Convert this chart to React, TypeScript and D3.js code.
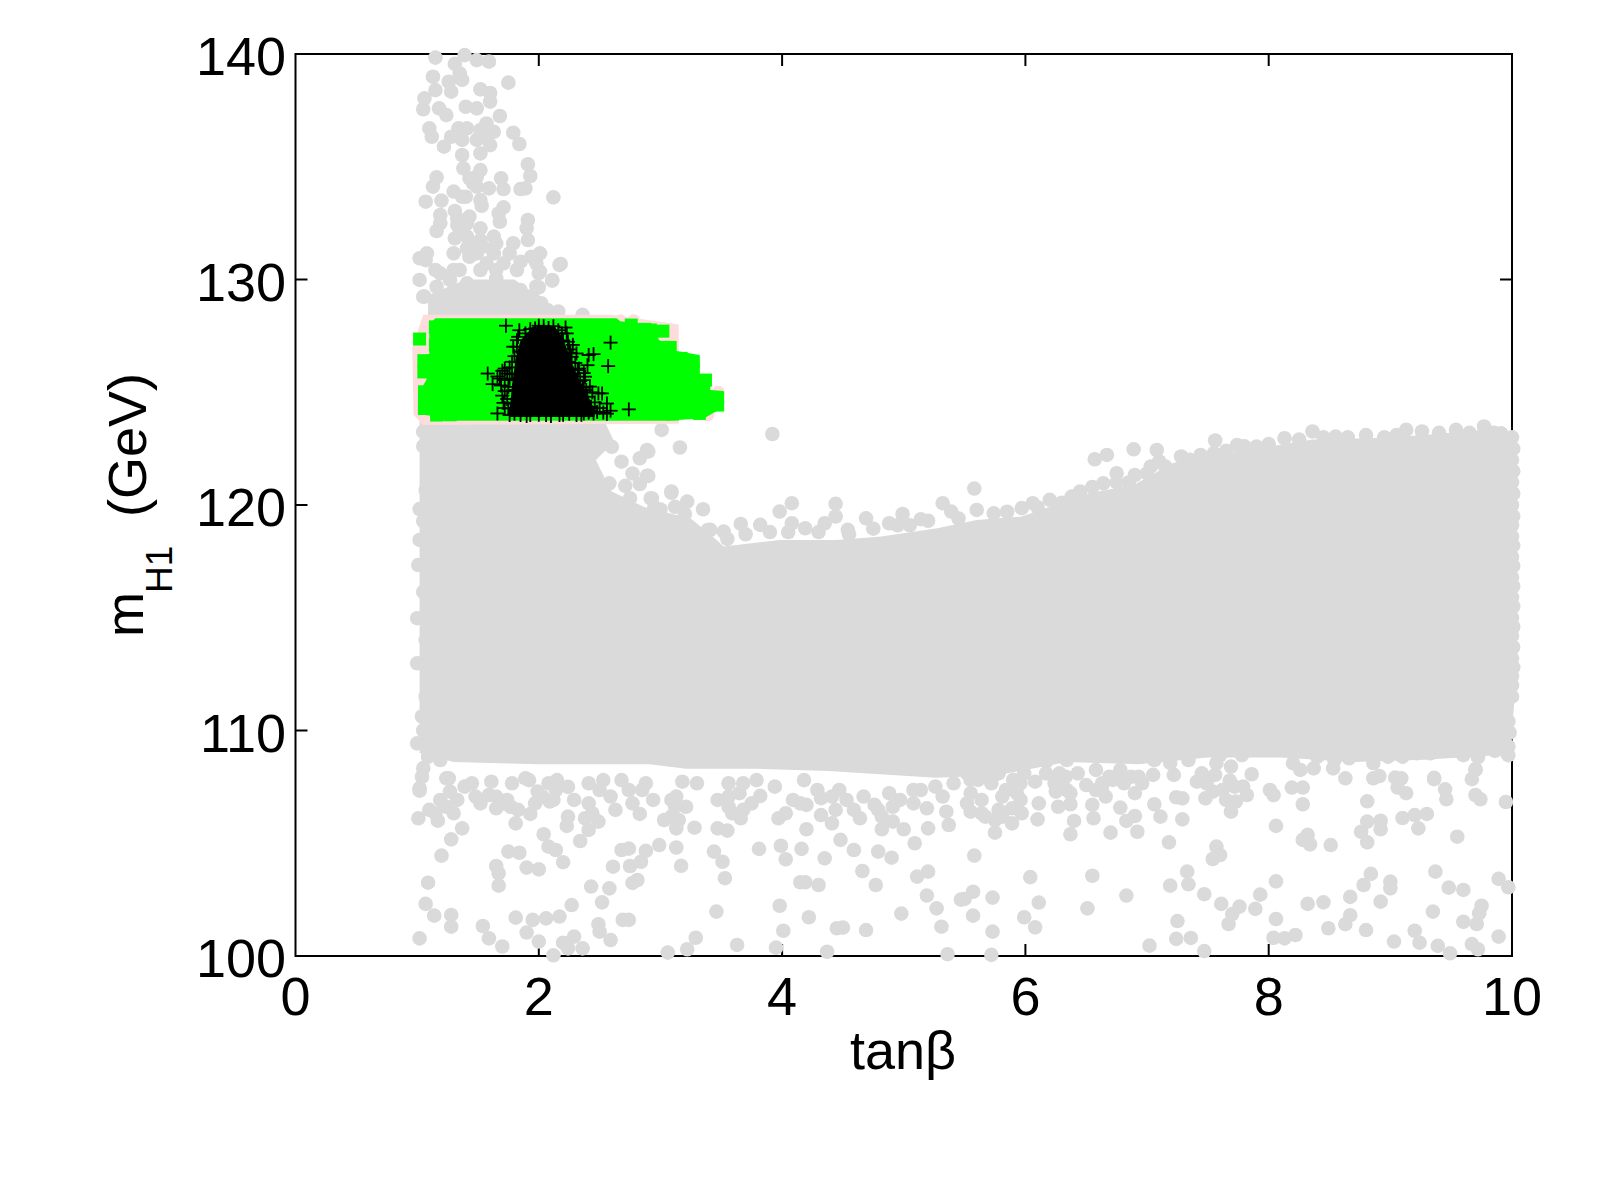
import React from "react";
import * as d3 from "d3";

type P = [number, number];

const xTicks = [0, 2, 4, 6, 8, 10];
const yTicks = [100, 110, 120, 130, 140];

// Outline of the saturated part of the grey cloud (tanβ, mH1)
const massTopEdge: P[] = [[1.02,124.5],[1.09,124.5],[1.09,129.3],[1.4,130],[1.8,130],[2.0,129.2],[2.15,128.6],[2.25,128.3],[2.3,124],[2.55,123.6],[2.62,122.8],[2.47,122],[2.55,121.1],[2.6,120.6],[2.87,119.9],[3.25,119.4],[3.45,118.5],[3.52,118.16],[3.985,118.45],[4.45,118.45],[4.815,118.6],[5.275,118.97],[5.6,119.34],[5.97,119.49],[6.52,120.52],[6.89,120.89],[7.21,121.85],[7.44,122.15],[7.9,122.5],[8.36,122.9],[8.83,122.96],[9.29,123.1],[9.75,123.33],[10.02,123.2]];
const massBottomEdge: P[] = [[10.02,111.3],[9.99,109.4],[9.86,108.9],[9.28,108.7],[8.69,108.6],[8.1,108.8],[7.5,108.8],[6.93,108.5],[6.34,108.6],[5.75,108],[5.26,107.9],[4.38,108.2],[3.79,108.3],[3.21,108.3],[2.91,108.5],[2,108.5],[1.3,108.6],[1.02,109]];

// Grey points above the signal window
const greyUpper: P[] = [[1.15,139.84],[1.39,139.95],[1.31,139.56],[1.49,139.73],[1.59,139.66],[1.35,139.14],[1.37,138.85],[1.75,138.73],[1.13,138.99],[1.26,138.77],[1.28,138.33],[1.15,138.4],[1.52,138.43],[1.6,138.27],[1.06,138.03],[1.05,137.55],[1.18,137.59],[1.24,137.29],[1.4,137.66],[1.49,137.59],[1.6,137.89],[1.68,137.25],[1.57,136.92],[1.1,136.7],[1.12,136.33],[1.34,136.7],[1.28,136.33],[1.52,136.63],[1.63,136.55],[1.79,136.51],[1.84,136.01],[1.22,135.89],[1.37,136.19],[1.6,135.96],[1.52,135.59],[1.37,135.52],[1.38,134.93],[1.91,135.11],[1.93,134.59],[1.89,134.04],[1.85,134.01],[2.12,133.64],[1.16,134.53],[1.13,134.12],[1.07,133.45],[1.2,133.5],[1.3,133.9],[1.4,133.67],[1.52,134.85],[1.43,134.49],[1.69,134.49],[1.71,134.01],[1.59,134.04],[1.49,134.12],[1.53,133.27],[1.71,133.2],[1.68,132.56],[1.67,132.93],[1.31,133.04],[1.19,132.86],[1.19,132.49],[1.16,132.15],[1.33,132.42],[1.43,132.79],[1.52,132.27],[1.91,132.64],[1.9,132.27],[1.31,131.82],[1.41,131.9],[1.91,131.75],[1.79,131.6],[1.65,131.6],[1.54,131.46],[1.3,131.16],[1.02,130.94],[1.08,131.16],[1.15,130.42],[1.02,129.98],[1.94,131.01],[2.01,131.16],[2.18,130.69],[2.01,130.35],[2.11,129.98],[2,129.65],[1.82,130.42],[1.71,130.72],[1.57,130.72],[1.43,131.01],[1.35,130.42],[1.05,129.24],[1.16,129.68],[1.27,129.98],[1.41,129.83],[1.65,130.05],[1.85,129.53],[1.52,129.24],[1.96,129.09],[2.07,128.65],[2.17,130.65],[2.11,129.95],[1.98,129.69],[2,130.28],[1.06,129.24],[1.78,129.4],[1.91,129.24],[2.02,128.95],[2.16,128.58],[2.36,128.43]];
const greyUpperDense: P[] = [[1.41,136.7],[1.57,136.33],[1.49,136.19],[1.43,131.6],[1.49,131.16],[1.63,131.16],[1.76,131.16],[1.52,131.75],[1.41,131.38],[1.35,132.19],[1.63,131.9],[1.85,130.79],[1.98,130.72],[1.52,130.42],[1.65,130.42],[1.19,130.27],[1.3,130.42],[1.07,130.86],[1.49,134.56],[1.46,134.26],[1.37,133.67],[1.52,133.52],[1.33,132.71],[1.41,132.49]];

// Grey points along the upper rim of the cloud
const greyRim: P[] = [[3.92,123.15],[5.58,120.73],[3.16,122.55],[3.01,123.33],[2.9,122.37],[2.9,121.29],[3.09,120.6],[3.22,120.15],[3.35,119.81],[2.92,120.3],[3.66,119.16],[4.08,120.08],[4.44,120.05],[4.69,119.41],[4.99,119.6],[5.14,119.37],[5.32,120.08],[4.54,118.9],[4.35,119.19],[4.44,119.49],[3.98,119.71],[4.08,119.19],[3.82,119.12],[3.52,118.82],[3.41,118.9],[4.19,118.97],[4.88,119.19],[5.39,119.71],[5.6,119.78],[5.74,119.63],[6.06,120.08],[5.97,119.86],[6.2,120.23],[6.38,120.37],[6.57,122.03],[6.67,122.22],[6.89,122.47],[7.08,122.44],[7.56,122.86],[6.75,121.41],[6.9,121.33],[6.64,120.96],[7.03,121.7],[7.1,121.93],[7.28,122.15],[7.44,122.22],[7.74,122.66],[7.9,122.59],[8.13,122.96],[8.36,123.26],[8.55,123.03],[8.8,123.1],[9.13,123.33],[9.26,123.26],[9.54,123.33],[9.77,123.48],[9.91,123.18],[2.89,122.44],[2.83,122.07],[2.68,121.92],[2.6,122.58],[2.77,121.4],[2.89,121.3],[2.83,120.93],[2.71,120.85],[2.58,120.96],[2.93,120.29],[3.09,120.54],[3.12,119.92],[3.39,118.89]];
const greyRimFill: P[] = [[3.55,118.5],[3.7,118.7],[3.9,118.8],[4.05,118.8],[4.3,118.8],[4.55,118.7],[4.75,118.95],[4.95,119.1],[5.05,119.1],[5.2,119.3],[5.45,119.4],[5.85,119.7],[6.1,119.9],[6.3,120.1],[6.45,120.6],[6.55,120.8],[6.75,121],[6.85,121],[7,121.4],[7.15,121.7],[7.35,122],[7.55,122.3],[7.65,122.4],[7.8,122.6],[8,122.7],[8.25,122.9],[8.45,123],[8.65,123],[8.95,123],[9.05,123.1],[9.4,123.2],[9.65,123.2],[9.85,123.2],[3,119.8],[2.75,120.3],[2.95,119.9],[3.2,119.6]];

// Grey points on the left and right edges of the cloud
const greySides: P[] = [[1.05,123.25],[1.05,122.61],[1.12,122.14],[1.15,121.03],[1.07,120.66],[1.19,120.22],[1.02,119.82],[1.05,119.29],[1.02,118.45],[1.01,117.34],[1.05,116.15],[1.11,117.7],[1,114.98],[1.07,114.02],[1,112.98],[1.07,111.5],[1.04,110.62],[1,109.43],[1.05,110],[1.05,108.33],[1.04,107.95],[1.02,107.44],[1.09,108.84],[1.19,108.69],[1.26,107.88],[10,123],[10.01,122.5],[10,122],[10.01,121.5],[10,121],[10.01,120.5],[10,120],[10.01,119.5],[10,119.1],[10,118.6],[10.01,118.2],[10,117.7],[10.01,117.3],[10,116.8],[10.01,116.4],[10,115.9],[10.01,115.5],[10,115],[10.01,114.6],[10,114.2],[10.01,113.7],[10,113.2],[10.01,112.8],[10,112.4],[10,112],[10,111.5],[9.97,110.4],[9.98,109.9],[9.97,109.3],[9.96,109],[9.72,108.82],[9.7,108.25],[9.36,107.9]];

// Grey points below the cloud, tanβ < 5.5
const greyLowerLeft: P[] = [[1.02,107.33],[1.01,106.11],[1.1,106.48],[1.17,106],[1.19,106.92],[1.27,107.29],[1.3,106.33],[1.33,106.92],[1.24,107.88],[1.37,105.66],[1.28,105.17],[1.2,104.45],[1.09,103.25],[1.07,102.31],[1.14,101.79],[1.28,101.82],[1.28,101.3],[1.02,100.78],[1.54,101.33],[1.59,100.78],[1.7,100.42],[1.81,101.7],[1.81,105.88],[1.65,106.55],[1.77,106.62],[1.93,106.3],[2.09,106.85],[1.52,106.77],[1.78,107.66],[1.99,107.29],[2.29,106.92],[2.24,106.18],[2.23,105.77],[2.49,105.96],[2.41,105.59],[2.34,105.1],[2.04,105.4],[2.08,104.85],[2.14,104.7],[2.2,104.16],[1.9,103.92],[2,103.84],[1.75,104.63],[1.84,104.58],[1.65,103.99],[1.67,103.67],[1.67,103.12],[2.43,103.08],[2.58,103],[2.52,102.38],[2.27,102.26],[2.17,101.75],[2.06,101.67],[1.95,101.6],[1.9,101.04],[2,100.64],[2.12,100.03],[2.2,100.59],[2.29,100.86],[2.24,100.34],[2.36,100.34],[2.49,101.41],[2.5,101.08],[2.59,100.71],[2.74,101.6],[2.69,101.6],[3.06,100.15],[3.22,100.3],[3.29,100.81],[3.63,100.49],[3.95,100.37],[4.37,100.19],[5.36,100.08],[3.46,101.97],[3.98,102.23],[4.01,101.12],[4.22,101.72],[4.45,101.23],[4.5,101.26],[4.69,101.15],[4.98,101.88],[5.27,102.11],[5.31,101.3],[5.19,102.68],[5.11,103.52],[5.2,103.74],[4.77,103.15],[4.66,103.77],[4.3,103.15],[4.15,103.27],[4.19,103.27],[3.53,103.45],[3.51,104.18],[3.44,104.63],[3.17,104],[3.13,104.81],[2.99,104.92],[2.88,104.66],[2.84,104.18],[2.75,103.99],[2.61,103.96],[2.68,104.7],[2.74,104.76],[2.77,103.24],[2.81,103.37],[3.28,105.69],[3.47,105.66],[3.55,105.56],[3.81,104.75],[3.99,104.89],[4.16,104.75],[4.03,104.29],[4.35,104.33],[4.48,105.15],[4.59,104.7],[4.79,104.63],[4.9,104.36],[5.09,105],[4.2,105.62],[3.97,106.11],[4.32,106.25],[4.41,105.88],[4.82,105.62],[5,105.62],[5.2,105.66],[5.37,105.81],[3.13,107.07],[3.09,106.18],[3.13,105.66],[3.21,106.62],[2.94,106.92],[2.83,106.3],[2.63,106.48],[2.59,107.07],[3.47,106.92],[3.66,106.11],[3.59,106.33],[3.82,107.1],[3.65,107.22],[4.09,106.92],[4.2,106.7],[4.44,106.48],[4.64,106.11],[4.91,105.96],[5.08,106.77],[5.19,106.55],[3.18,107.73],[3.3,107.66],[5.35,106.4],[5.47,102.5],[1.45,107.66],[1.61,107.73],[1.89,107.88],[2.15,107.8],[2.24,107.5],[2.41,107.66],[2.53,107.8],[2.68,107.8],[2.85,107.36],[3.56,107.66],[3.68,107.66],[3.94,107.51],[3.79,107.8],[4.18,107.8],[4.29,107.36],[4.47,107.36],[4.67,107.07],[4.79,106.48],[4.97,106.92],[4.88,107.22],[5.14,107.36],[5.32,107.07],[5.41,107.66],[1.59,107.14],[1.74,106.92],[2.12,106.92],[2.14,107.36]];
const greyLowerLeftDense: P[] = [[1.39,107.51],[1.48,107.07],[1.24,106.62],[1.15,106.33],[1.65,107.07],[1.71,106.77],[1.83,106.48],[1.97,106.77],[2.03,107.07],[2.08,107.66],[1.92,107.8],[2.41,106.77],[2.38,106.11],[2.44,106.33],[2.5,107.36],[2.74,107.36],[2.77,106.77],[2.88,107.66],[3.09,106.92],[3.12,106.62],[3.03,106.03],[3.15,106.03],[3.56,107.07],[3.56,106.62],[3.68,106.48],[3.75,106.77],[4.03,106.33],[4.15,106.77],[4.32,107],[4.53,106.92],[4.41,107.07],[4.59,106.48],[4.76,106.7],[5.08,107.36],[5.26,107.51],[4.91,106.62],[4.82,106.18]];

// Grey points below the cloud, tanβ ≥ 5.5
const greyLowerRight: P[] = [[5.58,104.45],[6.04,103.5],[6.55,103.56],[5.57,102.85],[5.5,102.53],[5.73,102.59],[5.57,101.79],[6.11,102.37],[5.99,101.72],[6.08,101.27],[5.73,101.08],[5.72,100.05],[6.51,102.11],[6.83,102.68],[7.02,100.46],[7.24,100.76],[7.36,100.8],[7.47,100.22],[7.25,101.55],[7.19,103.12],[7.34,103.18],[7.33,103.74],[7.47,102.74],[7.61,102.31],[7.76,102.19],[7.7,101.86],[7.67,101.42],[7.89,102.09],[7.93,102.72],[8.06,103.31],[8.06,101.64],[8.04,100.81],[8.13,100.78],[8.22,100.93],[8.32,102.31],[8.45,102.38],[8.67,102.62],[8.78,103.15],[8.84,103.64],[9,103.3],[9,103],[8.92,102.41],[8.67,101.81],[8.63,101.41],[8.49,101.23],[8.8,101.15],[9.03,100.64],[9.2,101.12],[9.24,100.59],[9.39,100.45],[9.49,100.12],[9.67,100.53],[9.72,100.3],[9.89,100.86],[9.75,102.23],[9.73,101.89],[9.71,101.42],[9.6,101.52],[9.35,101.97],[9.37,103.74],[9.48,103.03],[9.6,102.93],[9.89,103.42],[9.97,103.05],[9.55,105.29],[9.23,105.66],[9.3,106.3],[9.2,106.25],[9.1,106.12],[8.92,106],[8.92,105.62],[8.81,105.96],[8.76,105.51],[8.81,105.04],[8.51,104.92],[8.34,104.95],[8.32,105.37],[8.28,105.15],[8.06,105.77],[7.18,105.04],[7.57,104.85],[7.6,104.48],[7.54,104.3],[6.7,105.47],[6.92,105.51],[6.37,105.4],[6.4,105.99],[6.1,106.06],[5.75,105.47],[5.89,105.88],[6.83,105.99],[6.9,106.21],[7.11,106.18],[7.06,106.73],[7.29,106.06],[6.78,106.58],[6.55,106.7],[6.56,106.11],[6.27,106.62],[6.37,106.73],[6.11,106.77],[7.24,107.04],[7.29,106.99],[7.48,106.99],[7.69,106.4],[7.65,106.92],[7.73,106.85],[7.82,107.14],[7.79,107.51],[7.68,107.78],[7.56,108.03],[7.45,108.1],[7.41,107.73],[7.54,107.29],[7.86,108.06],[8.01,107.36],[8.04,107.14],[8.19,107.47],[8.28,107.47],[8.28,106.73],[8.81,106.86],[8.63,107.88],[8.86,107.88],[8.91,107.98],[9.04,107.91],[9.09,107.88],[9.06,107.47],[9.13,107.22],[9.36,107.84],[9.45,107.39],[9.46,106.95],[9.7,107.14],[9.74,106.95],[9.95,106.83],[9.7,108.28],[9.67,107.84],[8.2,108.55],[8.26,108.25],[8.37,108.32],[8.53,108.32],[8.86,108.55],[8.66,108.77],[8.81,108.99],[9.1,108.84],[9.33,108.99],[9.6,108.91],[9.72,108.84],[9.97,108.91],[7.6,108.91],[7.78,108.91],[7.69,108.4],[7.22,108.03],[7.05,108.03],[7.19,108.57],[5.55,106.4],[5.67,106.18],[5.75,106.03],[5.97,106.33],[5.89,106.55],[5.55,107.22],[5.72,107.66],[5.9,107.81],[5.52,108.1],[6.08,107.73],[6.24,107.66],[6.33,107.95],[6.5,107.58],[6.66,107.07],[6.72,107.81],[6.87,107.95],[6.9,107.22],[6.96,107.66],[6.25,107.29],[6.34,108.69],[6.17,108.62],[5.99,108.1],[6.58,108.25],[6.78,108.25],[5.5,108.99],[5.7,108.84],[5.64,106.92],[5.81,107.07],[5.93,107.22],[5.78,106.48],[5.61,107.81],[6.37,107.22],[6.58,107.36],[6.63,107.66],[6.25,107.88]];
const greyLowerRightDense: P[] = [[5.55,107.81],[5.67,107.95],[5.78,108.1],[5.84,107.36],[5.96,106.92],[5.64,106.33],[5.81,106.18],[5.52,106.77],[5.96,107.66],[6.17,108.1],[6.28,108.1],[6.43,108.1],[6.28,107.58],[6.63,107.51],[6.81,107.66],[6.93,107.95],[6.69,107.95],[6.34,107.36],[7.06,108.69],[7.34,108.69],[7.57,108.55],[7.49,107.66],[7.62,107.36],[7.72,107.51],[8.54,108.69],[8.4,108.84],[8.98,108.84],[9.22,108.99],[9.54,109.1],[9.86,109.1]];

// Pink layer
const pinkOutline: P[] = [[0.96,127],[1.05,128.44],[2.6,128.44],[3.15,128],[3.15,123.6],[1.05,123.55],[0.97,124]];
const pinkPoints: P[] = [[3.475,125],[3.39,124],[2.67,128.17],[2.78,128.17]];

// Green layer
const greenOutline: P[] = [[1.15,128.28],[2.64,128.28],[2.67,128.15],[2.83,128.05],[2.97,128.05],[2.97,127.4],[3.11,126.85],[3.32,126.65],[3.32,125.75],[3.41,125.75],[3.41,125.1],[3.52,125.05],[3.52,124.35],[3.36,123.85],[3.05,123.74],[1.22,123.74],[1.13,123.95],[1.04,124],[1.04,125.2],[1.08,125.6],[1.04,125.85],[1.04,126.6],[1.1,126.7],[1.1,128]];
const greenPoints: P[] = [[1.02,127.36],[1.15,127.9],[1.15,127.09],[1.055,126.4],[1.055,125.9],[1.06,125.02],[1.06,124.5],[1.06,124.28],[1.16,123.99],[1.27,124],[3.02,127.71],[2.76,127.98],[2.87,127.79],[2.93,127.61],[3.17,126.5],[3.27,126.35],[3.27,125.98],[3.37,125.54],[3.47,124.73],[3.47,124.43],[3.32,124.06],[3.1,124.03],[3.02,126.99],[3.08,126.99]];

// Black layer
const blackOutline: P[] = [[1.76,124.2],[1.78,125.3],[1.81,126.5],[1.85,127.3],[1.95,127.9],[2.13,127.9],[2.2,127.4],[2.24,126.8],[2.28,126.2],[2.33,125.6],[2.4,124.9],[2.46,124.2],[2.46,123.9],[1.76,123.9]];
const blackPoints: P[] = [[1.73,127.95],[2.59,127.2],[2.57,126.16],[2.45,126.69],[2.41,126.65],[2.24,127.24],[2.22,127.87],[2.31,126.72],[2.4,126.2],[1.58,125.83],[1.62,125.36],[1.71,124.53],[1.66,124.06],[2.74,124.24],[2.59,124.18],[2.56,124.5],[2.49,124.95],[2.52,124.95],[2.48,124.13],[2.39,125.1],[2.38,125.69],[2.04,127.93],[2.12,127.93],[1.97,127.83],[1.89,127.61],[1.82,127.31],[1.79,127.02],[1.82,127.02],[1.78,126.35],[1.74,125.83],[1.72,125.54],[1.79,125.1],[1.75,124.28],[2.32,125.98],[2.37,125.54],[2.43,124.36],[2.34,124.8],[2.45,124.06],[2.37,124.06],[2.27,126.57],[2.28,125.83],[1.76,123.99],[1.85,123.99],[1.93,123.99],[2.06,123.99],[2.17,123.99],[2.31,123.99],[2.23,127.61],[1.9,126.87],[1.68,125.61],[1.75,125.24],[1.83,127.46],[2.19,127.61],[2.27,125.1],[2.34,124.36]];
const blackFuzz: P[] = [[1.84,127.75],[1.93,127.8],[2,127.95],[2.08,127.85],[2.16,127.75],[2.2,127.3],[1.8,126.6],[1.85,126.8],[2.25,126.9],[2.3,126.3],[2.24,126.35],[1.76,126.1],[1.7,125.95],[1.76,125.6],[1.69,125.3],[1.72,125.05],[1.7,124.85],[1.74,124.7],[1.72,124.3],[1.78,124.5],[2.34,125.5],[2.36,125.2],[2.42,125.25],[2.44,125],[2.4,124.8],[2.46,124.55],[2.5,124.3],[2.53,124.1],[2.42,124.2],[2.56,124.05],[2.3,125.3],[2.33,126.05],[2.26,126.75],[1.8,124.05],[1.9,123.95],[2,124],[2.1,123.95],[2.2,124],[2.25,124.05],[2.35,124],[2.41,124.1],[2.28,127.1],[2.2,126.6],[2.37,125.85],[1.78,125.8],[1.72,126.05],[1.66,125.7]];

const W = 1600, H = 1203;
const x = d3.scaleLinear().domain([0, 10]).range([295.5, 1512]);
const y = d3.scaleLinear().domain([100, 140]).range([956, 54]);
const outline = d3.line<P>().x((d) => x(d[0])).y((d) => y(d[1]));

const GREY = "#dadada", PINK = "#ffdcdc", GREEN = "#00ff00";
const FONT = "'Liberation Sans', Arial, Helvetica, sans-serif";
const SIZE = 54;
const TICK = 12;

export default function App() {
  const greyAll = [...greyUpper, ...greyUpperDense, ...greyRim, ...greyRimFill, ...greySides, ...greyLowerLeft, ...greyLowerLeftDense, ...greyLowerRight, ...greyLowerRightDense];
  const plusAll = [...blackPoints, ...blackFuzz];
  return (
    <svg width={W} height={H} viewBox={`0 0 ${W} ${H}`} style={{ position: "absolute", left: 0, top: 0, background: "#fff" }} fontFamily={FONT}>
      <g stroke="#000" strokeWidth={2} fill="none">
        <rect x={x(0)} y={y(140)} width={x(10) - x(0)} height={y(100) - y(140)} />
        {xTicks.slice(1, -1).map((t) => (
          <g key={t}>
            <line x1={x(t)} x2={x(t)} y1={y(100)} y2={y(100) - TICK} />
            <line x1={x(t)} x2={x(t)} y1={y(140)} y2={y(140) + TICK} />
          </g>
        ))}
        {yTicks.slice(1, -1).map((t) => (
          <g key={t}>
            <line x1={x(0)} x2={x(0) + TICK} y1={y(t)} y2={y(t)} />
            <line x1={x(10)} x2={x(10) - TICK} y1={y(t)} y2={y(t)} />
          </g>
        ))}
      </g>

      <path d={outline([...massTopEdge, ...massBottomEdge])! + "Z"} fill={GREY} />
      <g fill={GREY}>
        {greyAll.map((d, i) => <circle key={i} cx={x(d[0])} cy={y(d[1])} r={7.3} />)}
      </g>

      <path d={outline(pinkOutline)! + "Z"} fill={PINK} />
      <g fill={PINK}>
        {pinkPoints.map((d, i) => <circle key={i} cx={x(d[0])} cy={y(d[1])} r={6.5} />)}
      </g>

      <path d={outline(greenOutline)! + "Z"} fill={GREEN} />
      <g fill={GREEN}>
        {greenPoints.map((d, i) => <rect key={i} x={x(d[0]) - 6.5} y={y(d[1]) - 6.5} width={13} height={13} />)}
      </g>

      <path d={outline(blackOutline)! + "Z"} fill="#000" />
      <g stroke="#000" strokeWidth={1.8}>
        {plusAll.map((d, i) => (
          <g key={i}>
            <line x1={x(d[0]) - 7} x2={x(d[0]) + 7} y1={y(d[1])} y2={y(d[1])} />
            <line x1={x(d[0])} x2={x(d[0])} y1={y(d[1]) - 7} y2={y(d[1]) + 7} />
          </g>
        ))}
      </g>

      <g fontSize={SIZE} fill="#000">
        {xTicks.map((t) => <text key={t} x={x(t)} y={1015} textAnchor="middle">{t}</text>)}
        {yTicks.map((t) => <text key={t} x={286} y={y(t) + 21} textAnchor="end">{t}</text>)}
        <text x={850} y={1069}>tanβ</text>
        <text transform="translate(143,637) rotate(-90)">m</text>
        <text transform="translate(172,593) rotate(-90)" fontSize={37}>H1</text>
        <text transform="translate(146,517) rotate(-90)">(GeV)</text>
      </g>
    </svg>
  );
}
